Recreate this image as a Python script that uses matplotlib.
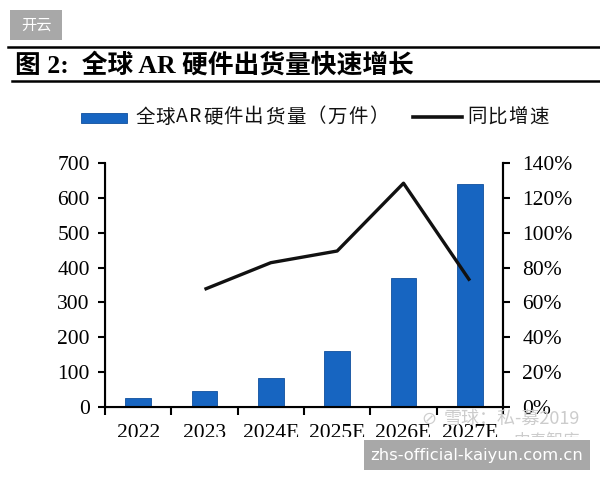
import matplotlib
matplotlib.use("Agg")
import matplotlib.pyplot as plt
from matplotlib.patches import Rectangle
from matplotlib.lines import Line2D
from matplotlib.ticker import FuncFormatter, FixedLocator

categories = ["2022", "2023", "2024E", "2025E", "2026E", "2027E"]
shipments = [25, 45, 83, 161, 371, 640]
growth_years = ["2023", "2024E", "2025E", "2026E", "2027E"]
growth = [0.675, 0.828, 0.895, 1.284, 0.725]
left_ticks = [0, 100, 200, 300, 400, 500, 600, 700]
right_ticks = [0, 0.2, 0.4, 0.6, 0.8, 1.0, 1.2, 1.4]

title = "图 2:  全球 AR 硬件出货量快速增长"
bar_label = "全球AR硬件出货量（万件）"
line_label = "同比增速"

W, H = 600, 480
serif = ["Liberation Serif", "Noto Sans CJK SC"]
cjk = ["Noto Sans CJK SC", "DejaVu Sans"]
bar_color = "#1765c1"

fig = plt.figure(figsize=(6, 4.8), dpi=100)
fig.patch.set_facecolor("white")
renderer = fig.canvas.get_renderer()

def fx(px):
    return px / W

def fy(py):
    return 1 - py / H

def spaced_text(x_px, y_px, s, spacing_px, **kw):
    x = x_px
    for ch in s:
        t = fig.text(fx(x), fy(y_px), ch, ha="left", va="center", **kw)
        w = t.get_window_extent(renderer=renderer).width
        x += w + spacing_px
    return x

ax = fig.add_axes([fx(105), fy(407), fx(503) - fx(105), fy(163) - fy(407)])
ax.set_facecolor("white")
xpos = [i + 0.5 for i in range(len(categories))]
ax.bar(xpos, shipments, width=0.39, color=bar_color, edgecolor="#0f4f9e", linewidth=0.6, zorder=2)
ax.set_xlim(0, len(categories))
ax.set_ylim(0, 700)
ax.set_yticks(left_ticks)
ax.set_yticklabels([str(v) for v in left_ticks], fontfamily=serif, fontsize=15.5)
ax.xaxis.set_major_locator(FixedLocator(list(range(len(categories) + 1))))
ax.set_xticklabels([""] * (len(categories) + 1))
ax.xaxis.set_minor_locator(FixedLocator(xpos))
ax.set_xticklabels(categories, minor=True, fontfamily=serif, fontsize=15.5)
ax.tick_params(axis="x", which="major", direction="out", length=6, width=1.5)
ax.tick_params(axis="x", which="minor", length=0, pad=12)
ax.tick_params(axis="y", direction="out", length=5, width=1.5, pad=6)
ax.spines["top"].set_visible(False)
for s in ["left", "bottom", "right"]:
    ax.spines[s].set_linewidth(1.5)

ax2 = ax.twinx()
gx = [xpos[categories.index(c)] for c in growth_years]
ax2.plot(gx, growth, color="#111111", linewidth=2.4, solid_capstyle="butt", zorder=3)
ax2.set_ylim(0, 1.4)
ax2.set_yticks(right_ticks)
ax2.yaxis.set_major_formatter(FuncFormatter(lambda v, p: f"{v*100:.0f}%"))
for lab in ax2.get_yticklabels():
    lab.set_fontfamily(serif)
    lab.set_fontsize(15.5)
ax2.tick_params(axis="y", direction="out", length=5, width=1.5, pad=9)
ax2.spines["top"].set_visible(False)
ax2.spines["right"].set_linewidth(1.5)

# header label box
fig.patches.append(Rectangle((fx(10), fy(40)), fx(62) - fx(10), fy(10) - fy(40),
                             transform=fig.transFigure, facecolor="#a8a8a8", edgecolor="none"))
fig.text(fx(36), fy(25.5), "开云", color="white", fontsize=11, fontfamily=cjk, ha="center", va="center")

# title with rules
fig.add_artist(Line2D([fx(8), 1], [fy(47), fy(47)], color="black", linewidth=1.8))
fig.add_artist(Line2D([fx(12), 1], [fy(81), fy(81)], color="black", linewidth=1.8))
fig.text(fx(15), fy(65), title, fontsize=18.5, fontweight="bold", fontfamily=serif,
         ha="left", va="center", color="black")

# legend
fig.patches.append(Rectangle((fx(81), fy(123)), fx(127) - fx(81), fy(113) - fy(123),
                             transform=fig.transFigure, facecolor=bar_color, edgecolor="#0f4f9e", linewidth=0.6))
spaced_text(135, 117, bar_label, 1.2, fontsize=14, fontfamily=cjk, color="#111111")
fig.add_artist(Line2D([fx(413), fx(462)], [fy(116.5), fy(116.5)], color="#111111", linewidth=2.6))
spaced_text(467, 117, line_label, 1.2, fontsize=14, fontfamily=cjk, color="#111111")

# watermark
fig.text(fx(421), fy(419), "⊘", fontsize=13, color="#cfcfcf", ha="left", va="center", fontfamily=["DejaVu Sans"])
fig.text(fx(444), fy(419), "雪球：私-募2019", fontsize=13, color="#cccccc", ha="left", va="center", fontfamily=cjk)
fig.text(fx(513), fy(441), "中泰智库", fontsize=12, color="#cccccc", ha="left", va="center", fontfamily=cjk)

# cropped bottom area
fig.patches.append(Rectangle((0, 0), 1, fy(437), transform=fig.transFigure,
                             facecolor="white", edgecolor="none", zorder=10))
fig.patches.append(Rectangle((fx(364), fy(470)), fx(590) - fx(364), fy(440) - fy(470),
                             transform=fig.transFigure, facecolor="#a8a8a8", edgecolor="none", zorder=11))
fig.text(fx(477), fy(455.5), "zhs-official-kaiyun.com.cn", color="white", fontsize=11.8,
         fontfamily=["DejaVu Sans"], ha="center", va="center", zorder=12)

fig.savefig("out.png", dpi=100)
